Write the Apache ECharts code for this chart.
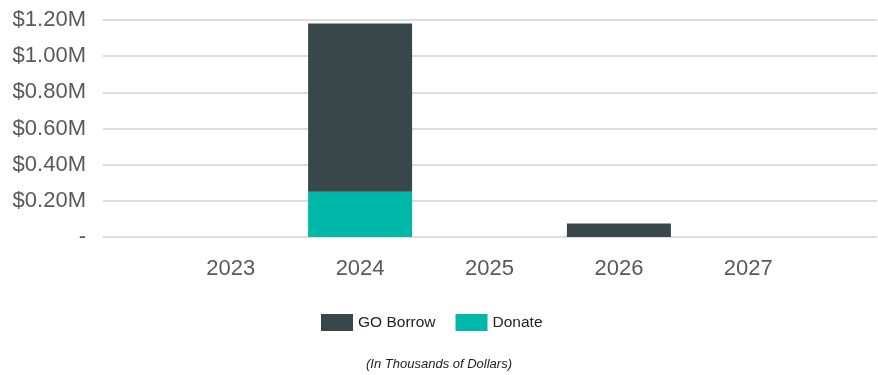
<!DOCTYPE html>
<html><head><meta charset="utf-8">
<script src="https://cdn.jsdelivr.net/npm/echarts@6/dist/echarts.min.js"></script>
<style>html,body{margin:0;padding:0;background:#fff}#c{width:878px;height:375px}</style>
</head><body><div id="c"></div>
<script>
const categories = ['2023', '2024', '2025', '2026', '2027'];
const goBorrow = [0, 0.93, 0, 0.075, 0];
const donate = [0, 0.25, 0, 0, 0];
const yTicks = { min: 0, max: 1.2, interval: 0.2 };
const subtitle = '(In Thousands of Dollars)';

const FONT = '"Liberation Sans", Arial, sans-serif';
const TXT = '#595959';
const chart = echarts.init(document.getElementById('c'));
chart.setOption({
  animation: false,
  grid: [
    { left: 103, right: 1, top: 20, bottom: 138 },
    { left: 166, right: 65, top: 20, bottom: 138 }
  ],
  xAxis: [
    { gridIndex: 0, type: 'value', show: false, min: 0, max: 1 },
    { gridIndex: 1, type: 'category', data: categories,
      axisLine: { show: false }, axisTick: { show: false },
      axisLabel: { color: TXT, fontFamily: FONT, fontSize: 22, margin: 21 } }
  ],
  yAxis: [
    { gridIndex: 0, type: 'value', min: yTicks.min, max: yTicks.max, interval: yTicks.interval,
      axisLine: { show: false }, axisTick: { show: false },
      splitLine: { lineStyle: { color: '#dcdcdc', width: 2 } },
      axisLabel: { color: TXT, fontFamily: FONT, fontSize: 22, margin: 17,
        formatter: v => v === 0 ? '-' : '$' + v.toFixed(2) + 'M' } },
    { gridIndex: 1, type: 'value', min: yTicks.min, max: yTicks.max, interval: yTicks.interval, show: false }
  ],
  legend: {
    left: 321, top: 314, padding: 0, itemWidth: 32, itemHeight: 17, itemGap: 20,
    icon: 'rect', data: ['GO Borrow', 'Donate'],
    textStyle: { color: '#222', fontFamily: FONT, fontSize: 15.5, padding: [0, 0, 0, 0] }
  },
  title: {
    text: subtitle, left: 'center', top: 353,
    textStyle: { color: '#222', fontFamily: FONT, fontSize: 13, fontStyle: 'italic', fontWeight: 'normal' }
  },
  series: [
    { name: 'Donate', type: 'bar', stack: 's', xAxisIndex: 1, yAxisIndex: 1,
      data: donate, barWidth: 104, itemStyle: { color: '#00b8a9' } },
    { name: 'GO Borrow', type: 'bar', stack: 's', xAxisIndex: 1, yAxisIndex: 1,
      data: goBorrow, barWidth: 104, itemStyle: { color: '#37474a' } }
  ]
});
</script></body></html>
